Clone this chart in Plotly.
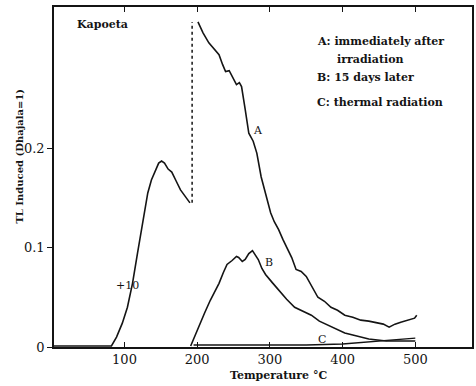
import plotly.graph_objects as go

# +10 scaled curve (low temperature peak, multiplied by 10)
p10_x = [3, 40, 82, 89, 97, 104, 111, 118, 125, 132, 137, 141, 147, 151, 155, 160, 165, 171, 177, 184, 190]
p10_y = [0.001, 0.001, 0.001, 0.01, 0.024, 0.04, 0.064, 0.095, 0.125, 0.155, 0.168, 0.175, 0.185, 0.187, 0.185, 0.179, 0.176, 0.167, 0.158, 0.151, 0.145]

# dotted connector
dot_x = [193, 193]
dot_y = [0.145, 0.327]

# Curve A: immediately after irradiation
a_x = [201, 208, 216, 223, 230, 235, 239, 244, 248, 254, 258, 261, 266, 271, 277, 282, 288, 295, 301, 306, 312, 318, 325, 330, 336, 343, 350, 358, 366, 375, 384, 393, 403, 414, 425, 436, 448, 456, 464, 472, 480, 490, 499, 502]
a_y = [0.327, 0.316, 0.306, 0.300, 0.294, 0.284, 0.277, 0.278, 0.272, 0.264, 0.266, 0.262, 0.239, 0.215, 0.207, 0.195, 0.171, 0.150, 0.135, 0.126, 0.118, 0.108, 0.098, 0.090, 0.078, 0.076, 0.071, 0.060, 0.050, 0.046, 0.040, 0.037, 0.032, 0.030, 0.027, 0.026, 0.024, 0.023, 0.020, 0.023, 0.025, 0.027, 0.029, 0.032]

# Curve B: 15 days later
b_x = [191, 196, 202, 210, 218, 224, 230, 236, 241, 248, 254, 257, 262, 266, 271, 276, 280, 284, 289, 294, 303, 312, 323, 334, 345, 357, 368, 380, 392, 403, 414, 425, 436, 448, 460, 471, 485, 500]
b_y = [0.001, 0.01, 0.02, 0.034, 0.047, 0.056, 0.064, 0.075, 0.083, 0.087, 0.091, 0.090, 0.086, 0.088, 0.094, 0.097, 0.093, 0.088, 0.079, 0.073, 0.065, 0.057, 0.048, 0.040, 0.036, 0.032, 0.026, 0.022, 0.018, 0.014, 0.012, 0.010, 0.008, 0.007, 0.006, 0.006, 0.006, 0.006]

# Curve C: thermal radiation
c_x = [195, 250, 300, 350, 400, 430, 460, 500]
c_y = [0.002, 0.002, 0.002, 0.002, 0.003, 0.005, 0.007, 0.009]

x_ticks = [100, 200, 300, 400, 500]
y_ticks = [0, 0.1, 0.2]
y_tick_labels = ["0", "0.1", "0.2"]

ink = "#141414"
font_family = "DejaVu Serif"

fig = go.Figure()
line = dict(color=ink, width=1.6)
fig.add_trace(go.Scatter(x=p10_x, y=p10_y, mode="lines", line=line))
fig.add_trace(go.Scatter(x=dot_x, y=dot_y, mode="lines", line=dict(color=ink, width=1.5, dash="dot")))
fig.add_trace(go.Scatter(x=a_x, y=a_y, mode="lines", line=line))
fig.add_trace(go.Scatter(x=b_x, y=b_y, mode="lines", line=line))
fig.add_trace(go.Scatter(x=c_x, y=c_y, mode="lines", line=dict(color=ink, width=1.3)))

def txt(x, y, s, size=12, xanchor="center", bold=True):
    fig.add_annotation(x=x, y=y, text=("<b>%s</b>" % s) if bold else s, showarrow=False,
                       xanchor=xanchor, yanchor="middle",
                       font=dict(family=font_family, size=size, color=ink))

txt(70, 0.324, "Kapoeta", size=11)
txt(362, 0.307, "A: immediately after", size=11, xanchor="left")
txt(390, 0.289, "irradiation", size=11, xanchor="left")
txt(362, 0.271, "B: 15 days later", size=11, xanchor="left")
txt(362, 0.246, "C: thermal radiation", size=11, xanchor="left")
txt(104, 0.062, "+10", size=11, bold=False)
txt(283, 0.218, "A", size=11, bold=False)
txt(299, 0.085, "B", size=11, bold=False)
txt(371, 0.008, "C", size=11, bold=False)

fig.add_annotation(x=312, y=0, xref="x", yref="paper", yshift=-28, yanchor="middle",
                   text="<b>Temperature °C</b>",
                   showarrow=False, font=dict(family=font_family, size=11, color=ink))
fig.add_annotation(x=0, y=0.56, xref="paper", yref="paper", xshift=-34, xanchor="center", yanchor="middle",
                   text="<b>TL Induced (Dhajala=1)</b>",
                   textangle=-90, showarrow=False, font=dict(family=font_family, size=10, color=ink))

fig.update_layout(
    width=476, height=386,
    margin=dict(l=54, r=2, t=7, b=39),
    paper_bgcolor="white", plot_bgcolor="white",
    showlegend=False,
    xaxis=dict(range=[3, 578], tickvals=x_ticks, ticks="inside", ticklen=5, tickcolor=ink,
               showline=True, linecolor=ink, linewidth=1.5, mirror="ticks", showgrid=False, zeroline=False,
               tickfont=dict(family=font_family, size=13, color=ink)),
    yaxis=dict(range=[0, 0.342], tickvals=y_ticks, ticktext=y_tick_labels, ticks="outside", ticklen=5,
               tickcolor=ink, showline=True, linecolor=ink, linewidth=1.5, mirror=True, showgrid=False,
               zeroline=False, tickfont=dict(family=font_family, size=13, color=ink)),
)

fig.write_html("out.html")
